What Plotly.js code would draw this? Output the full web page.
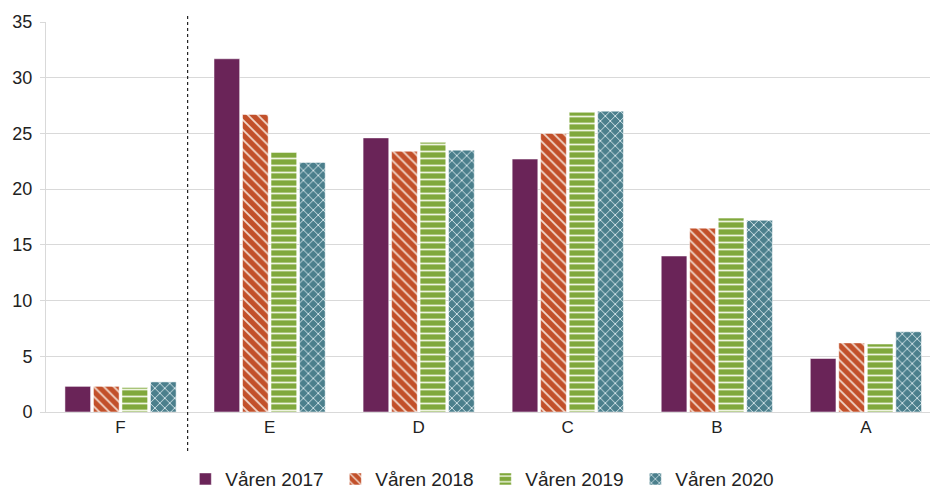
<!DOCTYPE html>
<html><head><meta charset="utf-8">
<script src="https://cdn.plot.ly/plotly-3.0.1.min.js"></script>
<style>body{margin:0;background:#fff}#c{width:930px;height:491px}</style>
</head><body><div id="c"></div>
<script>
const categories = ["F","E","D","C","B","A"];
const seriesNames = ["Våren 2017","Våren 2018","Våren 2019","Våren 2020"];
const v2017 = [2.3, 31.7, 24.6, 22.7, 14.0, 4.8];
const v2018 = [2.3, 26.7, 23.4, 25.0, 16.5, 6.2];
const v2019 = [2.2, 23.3, 24.2, 26.9, 17.4, 6.1];
const v2020 = [2.7, 22.4, 23.5, 27.0, 17.2, 7.2];
const yTicks = [0,5,10,15,20,25,30,35];

const colors = ["#6a2458","#c2502a","#80a83c","#4b7f8c"];
const fg = ["", "#f2d9cc", "#eef4df", "#d8e8ec"];
const patterns = ["", "\\", "-", "x"];
const vals = [v2017, v2018, v2019, v2020];

const traces = vals.map((v,i)=>({
  type:"bar", x:categories, y:v, name:seriesNames[i],
  marker:{color:colors[i],
    line:{color:"rgba(255,255,255,0.5)", width:1},
    pattern: patterns[i] ? {shape:patterns[i], fgcolor:fg[i], bgcolor:colors[i], fillmode:"replace", size:7, solidity:0.25} : {shape:""}
  },
  hoverinfo:"none"
}));

const layout = {
  width:930, height:491,
  margin:{l:46,r:0,t:22,b:79,autoexpand:false},
  barmode:"group", bargap:0.235, bargroupgap:0.1,
  font:{family:"Liberation Sans, Arial, sans-serif", size:17, color:"#222"},
  xaxis:{type:"category", range:[-0.5,5.43], showgrid:false, showline:true, linecolor:"#d9d9d9", linewidth:1,
         ticks:"", tickfont:{size:17}},
  yaxis:{range:[0,35], tickvals:yTicks, ticktext:yTicks.map(String), showgrid:true, gridcolor:"#d9d9d9",
         gridwidth:1, zeroline:false, showline:true, linecolor:"#d9d9d9", linewidth:1,
         ticks:"outside", ticklen:5, tickcolor:"#d9d9d9", tickfont:{size:18}, ticklabelstandoff:4},
  showlegend:true,
  legend:{orientation:"h", x:0.497, xanchor:"center", yref:"paper", y:-0.172, yanchor:"middle",
          font:{size:19}, traceorder:"normal", entrywidth:105, itemwidth:30},
  shapes:[{type:"line", xref:"x", x0:0.45, x1:0.45, yref:"paper", y0:-0.1, y1:1.02,
           line:{color:"#222", width:1.2, dash:"dot"}}],
  plot_bgcolor:"#fff", paper_bgcolor:"#fff"
};
Plotly.newPlot("c", traces, layout, {displayModeBar:false, staticPlot:true});
</script></body></html>
